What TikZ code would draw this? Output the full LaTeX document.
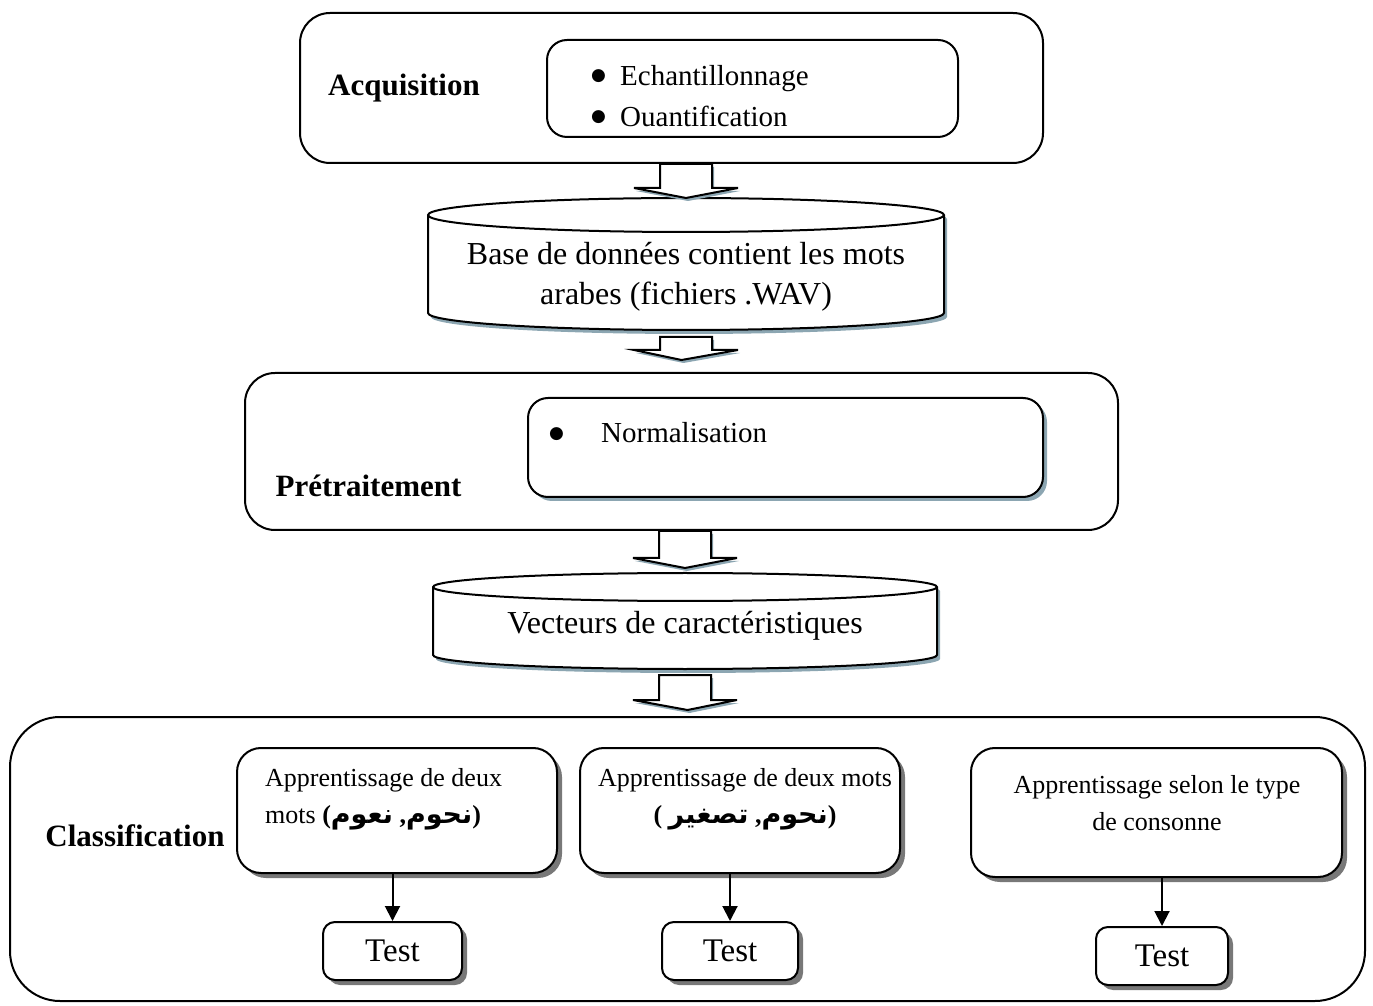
\documentclass[tikz,border=0pt]{standalone}
\usepackage{fontspec}
\setmainfont{Liberation Serif}
\newfontfamily\arabicfont[Script=Arabic]{DejaVu Sans}
\newfontfamily\symfont{DejaVu Sans}
\usetikzlibrary{arrows.meta, positioning, calc, shadows}

\definecolor{shblue}{RGB}{140,166,178}
\definecolor{shgray}{RGB}{120,120,120}

\newcommand{\bigbullet}{\raisebox{4.5pt}{\symfont\fontsize{17}{17}\selectfont ●}}
\newcommand{\arword}[1]{\mbox{\arabicfont\bfseries\fontsize{27}{37}\selectfont #1}}

\begin{document}
\begin{tikzpicture}[x=1pt, y=1pt,
    stage/.style={draw, line width=2pt, rounded corners=30pt, inner sep=0pt},
    inbox/.style={draw, fill=white, line width=2pt, rounded corners=20pt, inner sep=0pt},
    stagename/.style={font=\fontsize{31}{37}\selectfont\bfseries, inner sep=0pt},
    items/.style={font=\fontsize{29}{41}\selectfont, align=left, inner sep=0pt},
    dbframe/.style={inner sep=0pt, outer sep=0pt},
    dbtext/.style={font=\fontsize{32}{40}\selectfont, align=center, inner sep=0pt},
    cyl/.style={draw, fill=white, line width=2pt,
        drop shadow={shadow xshift=3pt, shadow yshift=-4pt, fill=shblue, opacity=1}},
    learn/.style={draw, fill=white, line width=2pt, rounded corners=24pt, inner sep=0pt,
        drop shadow={shadow xshift=5pt, shadow yshift=-5pt, fill=shgray, opacity=1}},
    learntext/.style={font=\fontsize{26}{37}\selectfont, inner sep=0pt},
    testbox/.style={draw, fill=white, line width=2pt, rounded corners=12pt, inner sep=0pt,
        minimum height=58pt, font=\fontsize{33}{38}\selectfont,
        drop shadow={shadow xshift=5pt, shadow yshift=-5pt, fill=shgray, opacity=1}},
    blockarrow/.style={draw, fill=white, line width=2pt, line join=miter,
        drop shadow={shadow xshift=2pt, shadow yshift=-3pt, fill=shblue, opacity=1},
        to path={let \p1=(\tikztostart), \p2=(\tikztotarget) in
            (\x1-26pt,\y1) -- (\x1-26pt,\y2+10pt) -- (\x1-52pt,\y2+10pt) -- (\x2,\y2)
            -- (\x1+52pt,\y2+10pt) -- (\x1+26pt,\y2+10pt) -- (\x1+26pt,\y1) -- cycle}},
    down/.style={line width=2pt, -{Triangle[width=15pt, length=15pt]}}
]
\useasboundingbox (0,0) rectangle (1373,1005);

% Acquisition
\node[stage, minimum width=743pt, minimum height=150pt] (acq) at (671.5,917) {};
\node[inbox, minimum width=411pt, minimum height=97pt] (acqbox) at (752.5,916.5) {};
\node[stagename] (acqname) at (404,917) {Acquisition};
\node[items, anchor=west] (acqitems) at (591,909)
    {\makebox[29pt][l]{\bigbullet}Echantillonnage\\\makebox[29pt][l]{\bigbullet}Ouantification};

% base de donnees
\node[dbframe, minimum width=516pt, minimum height=132pt] (db) at (686,741) {};
\path[cyl] ([yshift=-17pt]db.north west) -- ([yshift=17pt]db.south west)
    arc[start angle=180, end angle=360, x radius=258pt, y radius=17pt]
    -- ([yshift=-17pt]db.north east)
    arc[start angle=0, end angle=180, x radius=258pt, y radius=17pt] -- cycle;
\draw[line width=2pt] ([yshift=-17pt]db.north west)
    arc[start angle=180, end angle=360, x radius=258pt, y radius=17pt];
\node[dbtext] (dbtext) at (686,728) {Base de données contient les mots\\arabes (fichiers .WAV)};

% Pretraitement
\node[stage, minimum width=873pt, minimum height=157pt] (pre) at (681.5,553.5) {};
\node[inbox, minimum width=515pt, minimum height=99pt,
    drop shadow={shadow xshift=4pt, shadow yshift=-4pt, fill=shblue, opacity=1}] (prebox) at (785.5,557.5) {};
\node[stagename] (prename) at (368.5,519) {Prétraitement};
\node[items, anchor=west] (preitems) at (549,572) {\makebox[52pt][l]{\bigbullet}Normalisation};

% vecteurs
\node[dbframe, minimum width=504pt, minimum height=96pt] (vec) at (685,384) {};
\path[cyl] ([yshift=-14pt]vec.north west) -- ([yshift=14pt]vec.south west)
    arc[start angle=180, end angle=360, x radius=252pt, y radius=14pt]
    -- ([yshift=-14pt]vec.north east)
    arc[start angle=0, end angle=180, x radius=252pt, y radius=14pt] -- cycle;
\draw[line width=2pt] ([yshift=-14pt]vec.north west)
    arc[start angle=180, end angle=360, x radius=252pt, y radius=14pt];
\node[dbtext] (vectext) at (685,379) {Vecteurs de caractéristiques};

% Classification
\node[stage, rounded corners=50pt, minimum width=1355pt, minimum height=284pt] (cls) at (687.5,146) {};
\node[stagename] (clsname) at (135,169) {Classification};

\node[learn, minimum width=320pt, minimum height=125pt] (learnA) at (397,194.5) {};
\node[learntext, align=left, anchor=west] (textA) at (265,205.5)
    {Apprentissage de deux\\mots \textbf{(}\arword{نعوم}\textbf{ ,}\arword{نحوم}\textbf{)}};
\node[learn, minimum width=320pt, minimum height=125pt] (learnB) at (740,194.5) {};
\node[learntext, align=center] (textB) at (745,205.5)
    {Apprentissage de deux mots\\\textbf{( }\arword{تصغير}\textbf{ ,}\arword{نحوم}\textbf{)}};
\node[learn, minimum width=371pt, minimum height=129pt] (learnC) at (1156.5,192.5) {};
\node[learntext, align=center] (textC) at (1157,202) {Apprentissage selon le type\\de consonne};

\node[testbox, minimum width=139pt] (testA) at (392.5,54) {Test};
\node[testbox, minimum width=136pt] (testB) at (730,54) {Test};
\node[testbox, minimum width=132pt] (testC) at (1162,49) {Test};

% fleches
\path[blockarrow] (acq.south -| db.north) to (db.north);
\path[blockarrow] ([yshift=-7pt]db.south) to ([yshift=12pt]pre.north);
\path[blockarrow] (pre.south -| vec.north) to ([yshift=5pt]vec.north);
\path[blockarrow] ([yshift=-6pt]vec.south) to ([yshift=6pt]cls.north);

\draw[down] (learnA.south -| testA.north) -- (testA.north);
\draw[down] (learnB.south -| testB.north) -- (testB.north);
\draw[down] (learnC.south -| testC.north) -- (testC.north);
\end{tikzpicture}
\end{document}
